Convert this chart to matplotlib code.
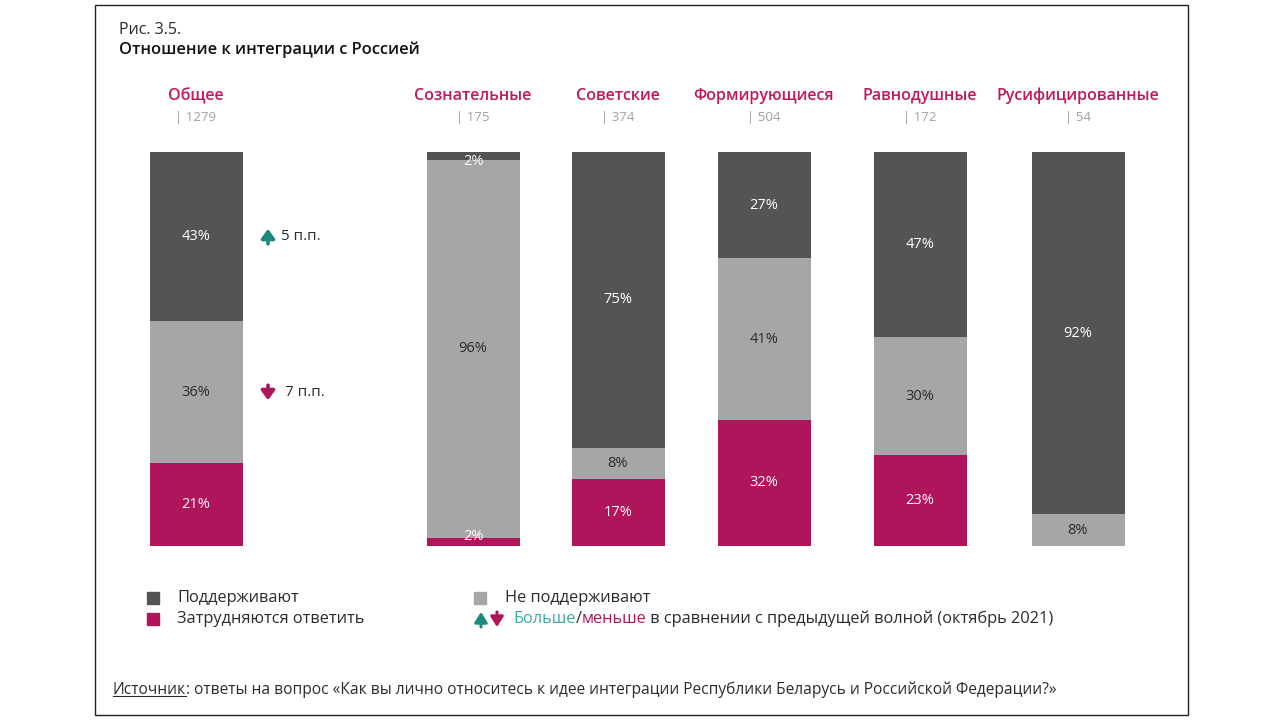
import matplotlib
matplotlib.use("Agg")
import matplotlib.pyplot as plt
from matplotlib.patches import Rectangle, FancyArrowPatch
from matplotlib.transforms import blended_transform_factory
from matplotlib.lines import Line2D

plt.rcParams["font.family"] = ["Open Sans", "DejaVu Sans"]

# ─── Data ─────────────────────────────────────────────────────────────────────
groups = ["Общее", "Сознательные", "Советские", "Формирующиеся",
          "Равнодушные", "Русифицированные"]
counts = [1279, 175, 374, 504, 172, 54]
support = [43, 2, 75, 27, 47, 92]
oppose = [36, 96, 8, 41, 30, 8]
unsure = [21, 2, 17, 32, 23, 0]
series_names = ["Поддерживают", "Не поддерживают", "Затрудняются ответить"]
change_text = ["5 п.п.", "7 п.п."]

# ─── Style ────────────────────────────────────────────────────────────────────
DARK = "#545456"
GREY = "#a6a6a8"
RED = "#b0145a"
HEAD = "#c2185b"
TEAL = "#1a8a80"
TEAL_TXT = "#3aaaa5"
TXT = "#2b2b2b"
CNT = "#a0a0a0"

x_pos = [196, 473, 618, 764, 920, 1078]
bar_w = 93

fig = plt.figure(figsize=(12.8, 7.2), dpi=100)
W, H = 1280, 720

# frame
fig.add_artist(Rectangle((95 / W, 5 / H), (1188 - 95) / W, (715 - 5) / H,
                         transform=fig.transFigure, fill=False,
                         edgecolor="#222222", lw=1.0))

fig.text(119 / W, 1 - 30 / H, "Рис. 3.5.", fontsize=11.5, color=TXT, va="center")
fig.text(119 / W, 1 - 50 / H, "Отношение к интеграции с Россией", fontsize=11.8,
         color="#111111", va="center", fontweight="semibold")

# ─── Bars ─────────────────────────────────────────────────────────────────────
ax = fig.add_axes([100 / W, (720 - 546) / H, 1080 / W, 394 / H])
ax.set_xlim(100, 1180)
ax.set_ylim(0, 100)
ax.axis("off")

bot_opp = unsure
bot_sup = [u + o for u, o in zip(unsure, oppose)]
ax.bar(x_pos, unsure, width=bar_w, color=RED)
ax.bar(x_pos, oppose, bottom=bot_opp, width=bar_w, color=GREY)
ax.bar(x_pos, support, bottom=bot_sup, width=bar_w, color=DARK)

for i, x in enumerate(x_pos):
    segs = [(unsure[i], 0, "white"),
            (oppose[i], bot_opp[i], TXT),
            (support[i], bot_sup[i], "white")]
    for val, b, col in segs:
        if val <= 0:
            continue
        y = b + val / 2
        c = col
        if val < 4:
            c = "white"
            y = b + val / 2 - 1.5 if b > 50 else b + val / 2 + 1.5
        ax.text(x, y, f"{val}%", ha="center", va="center", fontsize=10.5, color=c)

# change arrows for Общее
arrow_x = 268
y_up = bot_sup[0] + support[0] / 2
y_dn = bot_opp[0] + oppose[0] / 2
arw = dict(arrowstyle="-|>,head_width=0.4,head_length=0.55", lw=2.6,
           shrinkA=0, shrinkB=0)
ax.annotate("", xy=(arrow_x, y_up + 2.0), xytext=(arrow_x, y_up - 1.8),
            arrowprops=dict(arw, color=TEAL))
ax.text(arrow_x + 13, y_up, change_text[0], fontsize=11, color=TXT, va="center")
ax.annotate("", xy=(arrow_x, y_dn - 2.0), xytext=(arrow_x, y_dn + 1.8),
            arrowprops=dict(arw, color=RED))
ax.text(arrow_x + 17, y_dn, change_text[1], fontsize=11, color=TXT, va="center")

# headings and counts
tr = blended_transform_factory(ax.transData, fig.transFigure)
for x, g, n in zip(x_pos, groups, counts):
    ax.text(x, 1 - 96 / H, g, transform=tr, ha="center", va="center",
            fontsize=11.5, color=HEAD, fontweight="semibold")
    ax.text(x, 1 - 117 / H, f"| {n}", transform=tr, ha="center", va="center",
            fontsize=9.5, color=CNT)

# ─── Legend ───────────────────────────────────────────────────────────────────
LEG = 11.8


def square(px, py, col):
    fig.add_artist(Rectangle(((px - 6) / W, 1 - (py + 6) / H), 12 / W, 12 / H,
                             transform=fig.transFigure, color=col))


square(153, 598, DARK)
fig.text(177 / W, 1 - 598 / H, series_names[0], fontsize=LEG, color=TXT, va="center")
square(480, 598, GREY)
fig.text(505 / W, 1 - 598 / H, series_names[1], fontsize=LEG, color=TXT, va="center")
square(153, 619, RED)
fig.text(177 / W, 1 - 619 / H, series_names[2], fontsize=LEG, color=TXT, va="center")

for px, col, up in [(481, TEAL, True), (497, RED, False)]:
    y0, y1 = (627, 612) if up else (612, 627)
    fig.add_artist(FancyArrowPatch(
        (px / W, 1 - y0 / H), (px / W, 1 - y1 / H),
        transform=fig.transFigure, arrowstyle="-|>,head_width=3.8,head_length=6",
        color=col, lw=2.2, shrinkA=0, shrinkB=0))

t1 = fig.text(513 / W, 1 - 619 / H, "Больше", fontsize=LEG, color=TEAL_TXT, va="center")
t2 = fig.text(0, 0, "/", fontsize=LEG, color=TXT, va="center")
t3 = fig.text(0, 0, "меньше", fontsize=LEG, color=RED, va="center")
t4 = fig.text(0, 0, " в сравнении с предыдущей волной (октябрь 2021)", fontsize=LEG,
              color=TXT, va="center")

# ─── Source ───────────────────────────────────────────────────────────────────
SRC = 11.2
s1 = fig.text(113 / W, 1 - 690 / H, "Источник", fontsize=SRC, color=TXT, va="center")
s2 = fig.text(0, 0, ": ответы на вопрос «Как вы лично относитесь к идее интеграции "
              "Республики Беларусь и Российской Федерации?»", fontsize=SRC,
              color=TXT, va="center")

fig.canvas.draw()
r = fig.canvas.get_renderer()


def chain(prev, nxt):
    bb = prev.get_window_extent(r)
    y = prev.get_position()[1]
    nxt.set_position((bb.x1 / W, y))


chain(t1, t2)
chain(t2, t3)
chain(t3, t4)
chain(s1, s2)

bb = s1.get_window_extent(r)
fig.add_artist(Line2D([bb.x0 / W, bb.x1 / W], [(bb.y0 + 2) / H] * 2,
                      transform=fig.transFigure, color=TXT, lw=0.8))

fig.savefig("out.png", dpi=100)
